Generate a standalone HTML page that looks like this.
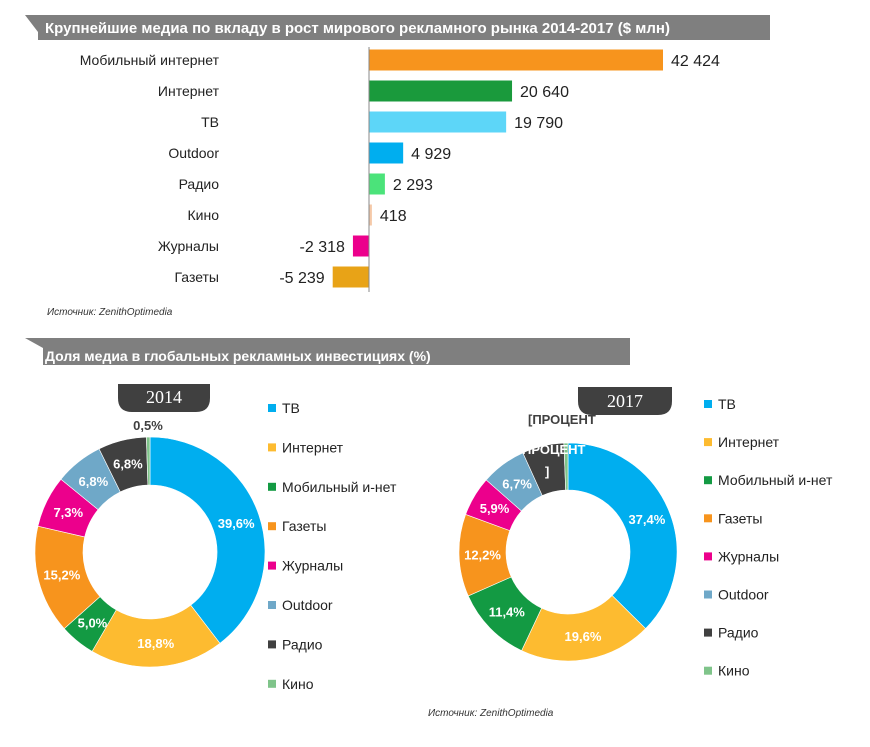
<!DOCTYPE html>
<html><head><meta charset="utf-8">
<style>
body{margin:0;background:#fff;width:870px;height:747px;overflow:hidden;font-family:"Liberation Sans","Noto Sans CJK SC",sans-serif;}
svg{display:block}
</style></head>
<body>
<svg id="c" width="870" height="747" viewBox="0 0 870 747" xmlns="http://www.w3.org/2000/svg" font-family="Liberation Sans, Noto Sans CJK SC, sans-serif">
<polygon points="25,15 770,15 770,40 38,40 38,32" fill="#7f7f7f"/>
<text x="45" y="33" fill="#fff" font-size="15" font-weight="bold">Крупнейшие медиа по вкладу в рост мирового рекламного рынка 2014-2017 ($ млн)</text>
<g id="bars"></g>
<text x="47" y="315" font-size="10" font-style="italic" fill="#333">Источник: ZenithOptimedia</text>
<polygon points="25,338 630,338 630,365 43,365 43,348" fill="#7f7f7f"/>
<text x="45" y="361" fill="#fff" font-size="14" font-weight="bold">Доля медиа в глобальных рекламных инвестициях  (%)</text>
<path d="M118,384 H210 V398 Q210,412 196,412 H132 Q118,412 118,398 Z" fill="#404040"/>
<text x="164" y="403" fill="#fff" font-size="18" text-anchor="middle" font-family="Liberation Serif, serif">2014</text>
<path d="M578,387 H672 V401 Q672,415 658,415 H592 Q578,415 578,401 Z" fill="#404040"/>
<text x="625" y="407" fill="#fff" font-size="18" text-anchor="middle" font-family="Liberation Serif, serif">2017</text>
<g id="d1"></g><g id="d2"></g>
<text x="528" y="424" font-size="13" font-weight="bold" fill="#404040">[ПРОЦЕНТ</text>
<text x="522" y="454" font-size="13" font-weight="bold" fill="#fff">ПРОЦЕНТ</text>
<text x="545" y="476" font-size="13" font-weight="bold" fill="#fff">]</text>
<text x="428" y="716" font-size="10" font-style="italic" fill="#333">Источник: ZenithOptimedia</text>
</svg>
<script>
const barCats=["Мобильный интернет","Интернет","ТВ","Outdoor","Радио","Кино","Журналы","Газеты"];
const barVals=[42424,20640,19790,4929,2293,418,-2318,-5239];
const barLabels=["42 424","20 640","19 790","4 929","2 293","418","-2 318","-5 239"];
const barColors=["#F7941D","#1A9A3C","#5DD6F8","#00AEEF","#4BE37A","#F5C9A8","#EC008C","#E8A317"];
const donutCats=["ТВ","Интернет","Мобильный и-нет","Газеты","Журналы","Outdoor","Радио","Кино"];
const share2014=[39.6,18.8,5.0,15.2,7.3,6.8,6.8,0.5];
const share2017=[37.4,19.6,11.4,12.2,5.9,6.7,6.2,0.6];
const labels2014=["39,6%","18,8%","5,0%","15,2%","7,3%","6,8%","6,8%","0,5%"];
const labels2017=["37,4%","19,6%","11,4%","12,2%","5,9%","6,7%","",""];
const donutColors=["#00AEEF","#FDBB30","#139A43","#F7941D","#EC008C","#6FA8C8","#404040","#7FC48A"];
const NS="http://www.w3.org/2000/svg";
function mk(t,a,p){const e=document.createElementNS(NS,t);for(const k in a)e.setAttribute(k,a[k]);p.appendChild(e);return e;}
const x0=369,k=294/42424,y0=60,dy=31,bh=21;
const xs=v=>x0+v*k, ys=i=>y0+i*dy;
const bg=document.getElementById('bars');
barVals.forEach((v,i)=>{
  const a=Math.min(xs(0),xs(v)),w=Math.max(Math.abs(xs(v)-xs(0)),1.5);
  const r=mk('rect',{x:a,y:ys(i)-bh/2,width:w,height:bh,fill:barColors[i]},bg);
  
  
  const c=mk('text',{x:219,y:ys(i)+5,'font-size':14,'text-anchor':'end',fill:'#222'},bg);c.textContent=barCats[i];
  
  
  const vl=mk('text',{x:v>=0?xs(v)+8:xs(v)-8,y:ys(i)+6,'font-size':16,'text-anchor':v>=0?'start':'end',fill:'#222'},bg);vl.textContent=barLabels[i];
  
  
});
const ax=mk('line',{x1:x0,y1:47,x2:x0,y2:292,stroke:'#888','stroke-width':1},bg);


function donut(g,cx,cy,R,r,vals,labs,lx,ly0,ldy,year){
  let a=0;const tot=vals.reduce((s,v)=>s+v,0);
  vals.forEach((v,i)=>{
    const a1=a,a2=a+v/tot*2*Math.PI;a=a2;
    const p=(ang,rr)=>[cx+rr*Math.sin(ang),cy-rr*Math.cos(ang)];
    const [x1,y1]=p(a1,R),[x2,y2]=p(a2,R),[x3,y3]=p(a2,r),[x4,y4]=p(a1,r);
    const lg=(a2-a1)>Math.PI?1:0;
    const s=mk('path',{d:`M${x1},${y1}A${R},${R} 0 ${lg} 1 ${x2},${y2}L${x3},${y3}A${r},${r} 0 ${lg} 0 ${x4},${y4}Z`,fill:donutColors[i],stroke:'#fff','stroke-width':0.6},g);
    
    
    if(labs[i]){
      const m=(a1+a2)/2;let [tx,ty]=p(m,(R+r)/2);let col='#fff';
      if(v<2){[tx,ty]=p(m,R+12);col='#404040';}
      const t=mk('text',{x:tx,y:ty+5,'font-size':13,'font-weight':'bold','text-anchor':'middle',fill:col},g);t.textContent=labs[i];
      
      
    }
    const sq=mk('rect',{x:lx,y:ly0+i*ldy-4,width:8,height:8,fill:donutColors[i]},g);
    
    
    const lt=mk('text',{x:lx+14,y:ly0+i*ldy+5,'font-size':14,fill:'#222'},g);lt.textContent=donutCats[i];
    
    
  });
}
donut(document.getElementById('d1'),150,552,115,67,share2014,labels2014,268,408,39.4,'2014');
donut(document.getElementById('d2'),568,552,109,62,share2017,labels2017,704,404,38.1,'2017');
</script>
</body></html>
